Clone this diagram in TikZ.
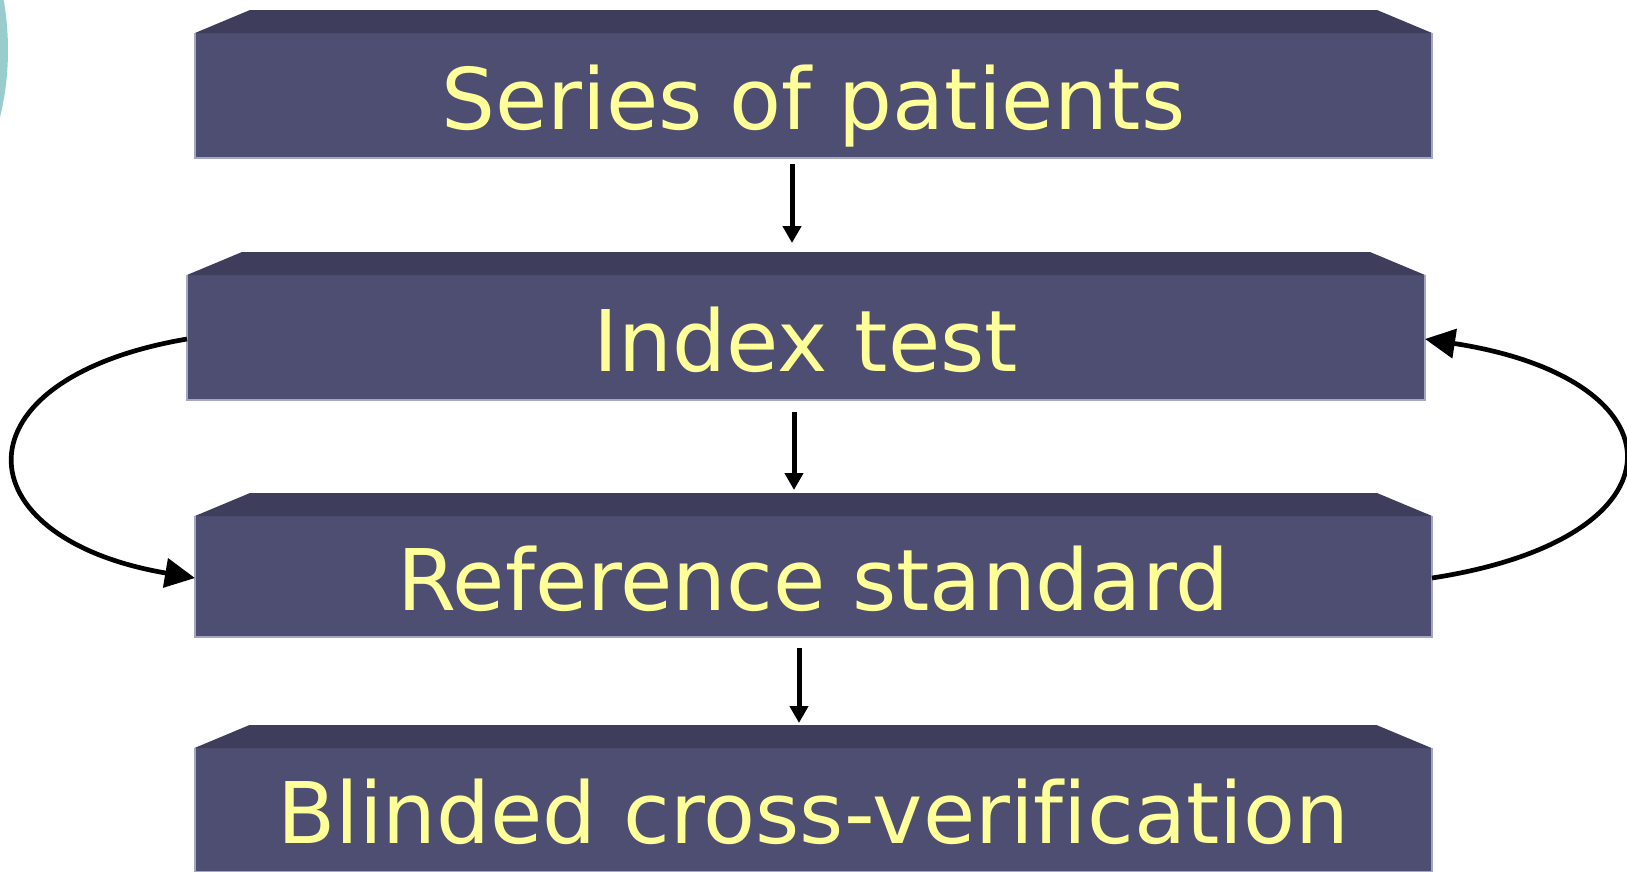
\documentclass[tikz,border=0pt]{standalone}
\usepackage{fontspec}
\newfontfamily\boxfont[Ligatures=NoCommon]{DejaVu Sans}
\usetikzlibrary{arrows.meta}
\definecolor{frontc}{RGB}{77,78,114}
\definecolor{topc}{RGB}{62,62,92}
\definecolor{edgec}{RGB}{165,165,200}
\definecolor{txtc}{RGB}{255,255,153}
\definecolor{tealc}{RGB}{153,204,204}
\tikzset{
  stepbox/.style={fill=frontc, draw=none, inner sep=0pt, outer sep=0pt,
    minimum width=1237pt, text=txtc, font=\boxfont\fontsize{85}{100}\selectfont,
    text height=67pt, text depth=0pt},
  va/.style={line width=5pt, -{Triangle[length=17pt,width=18pt]}},
  ca/.style={line width=4.7pt, -{Triangle[length=30pt,width=29pt]}},
}
\newcommand{\bevel}[1]{%
  \fill[topc] (#1.north west) -- ([shift={(55pt,23pt)}]#1.north west) --
    ([shift={(-55pt,23pt)}]#1.north east) -- (#1.north east) -- cycle;
  \draw[edgec, line width=2pt] (#1.north west) -- (#1.south west) -- (#1.south east) -- (#1.north east);
}
\begin{document}
\begin{tikzpicture}[x=1pt,y=-1pt]
\useasboundingbox (0,0) rectangle (1627,871);
\begin{scope}
\clip (0,0) rectangle (1627,871);
\fill[tealc] (-277,50) circle[radius=285];
\node[stepbox, minimum height=125pt] (s) at (813.5,95.5) {Series of patients};
\node[stepbox, minimum height=125pt, minimum width=1238pt] (i) at (806,337.5) {Index test};
\node[stepbox, minimum height=121pt] (r) at (813.5,576.5) {Reference standard};
\node[stepbox, minimum height=124pt] (b) at (813,810) {Blinded cross-verification};
\bevel{s}
\bevel{i}
\bevel{r}
\bevel{b}
\draw[va] ([shift={(-21.5pt,-6pt)}]s.south) -- ([shift={(-14pt,32pt)}]i.north);
\draw[va] ([shift={(-12pt,-12pt)}]i.south) -- ([shift={(-19.5pt,26pt)}]r.north);
\draw[va] ([shift={(-14.5pt,-11pt)}]r.south) -- ([shift={(-14pt,25pt)}]b.north);
\draw[ca] ([yshift=-1.5pt]i.west) .. controls +(-235pt,-40pt) and +(-235pt,40pt) .. ([yshift=-1.5pt]r.west);
\draw[ca] ([yshift=-1.5pt]r.east) .. controls +(260pt,40pt) and +(261pt,-40pt) .. ([yshift=-1.5pt]i.east);
\end{scope}
\end{tikzpicture}
\end{document}
